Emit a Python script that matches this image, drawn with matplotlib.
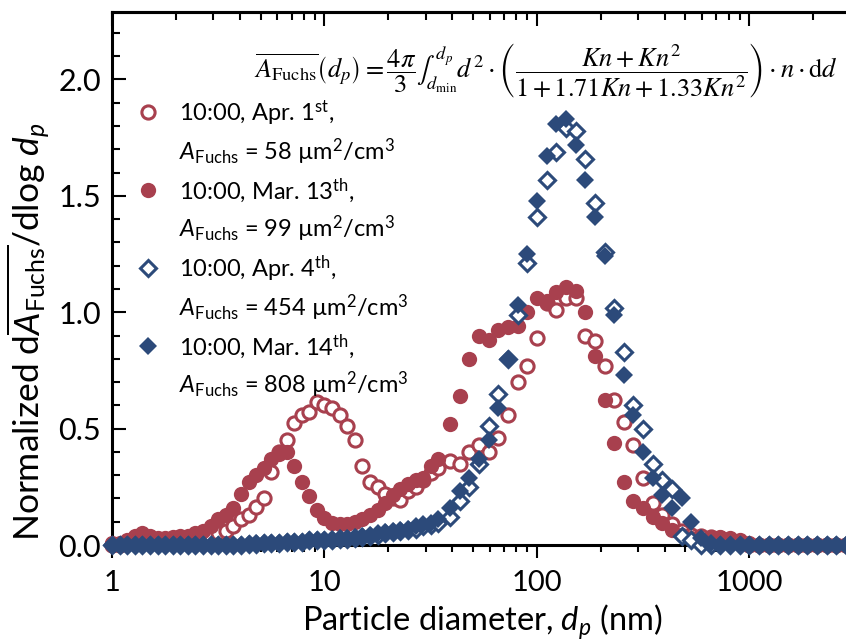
import matplotlib
matplotlib.use('Agg')
import matplotlib.pyplot as plt
from matplotlib.lines import Line2D
from matplotlib.ticker import MultipleLocator, FixedLocator, FixedFormatter, FormatStrFormatter

plt.rcParams['font.family'] = ['Lato', 'DejaVu Sans']
plt.rcParams['mathtext.fontset'] = 'custom'
plt.rcParams['mathtext.rm'] = 'Lato'
plt.rcParams['mathtext.it'] = 'Lato:italic'
plt.rcParams['mathtext.bf'] = 'Lato:bold'

# particle diameters (nm): nano channels then long channels
d_nano = [1.00, 1.086, 1.179, 1.280, 1.389, 1.509, 1.638, 1.778, 1.931, 2.096,
          2.276, 2.471, 2.683, 2.913, 3.162, 3.433, 3.728, 4.047, 4.394, 4.771,
          5.179, 5.623, 6.105, 6.629, 7.197, 7.814, 8.483, 9.211, 10.00, 10.86,
          11.79, 12.80, 13.89, 15.08, 16.38, 17.78, 19.31, 20.96, 22.76, 24.71,
          26.83, 29.13, 31.62, 34.33]
d_long = [38.99, 43.29, 48.06, 53.37, 59.25, 65.79, 73.05, 81.11, 90.06, 100.0,
          111.0, 123.3, 136.9, 152.0, 168.8, 187.4, 208.1, 231.0, 256.5, 284.8,
          316.2, 351.1, 389.9, 432.9, 480.6, 533.7, 592.5, 657.9, 730.5, 811.1,
          900.6, 1000, 1110, 1233, 1369, 1520, 1688, 1874, 2081, 2310,
          2565, 2848]
diam = d_nano + d_long

# normalized dA/dlog dp
apr1 = [0.00, 0.00, 0.01, 0.01, 0.01, 0.02, 0.02, 0.02, 0.02, 0.03,
        0.03, 0.03, 0.03, 0.04, 0.05, 0.06, 0.08, 0.11, 0.13, 0.165,
        0.20, 0.315, 0.40, 0.45, 0.525, 0.56, 0.57, 0.615, 0.60, 0.59,
        0.56, 0.51, 0.45, 0.34, 0.27, 0.25, 0.22, 0.20, 0.195, 0.23,
        0.25, 0.28, 0.31, 0.33,
        0.36, 0.35, 0.40, 0.43, 0.40, 0.46, 0.56, 0.70, 0.77, 0.89,
        1.04, 1.01, 1.06, 1.06, 0.90, 0.875, 0.77, 0.625, 0.53, 0.43,
        0.29, 0.18, 0.13, 0.09, 0.06, 0.045, 0.04, 0.035, 0.03, 0.02,
        0.01, 0.00, 0.00, 0.00, 0.00, 0.00, 0.00, 0.00, 0.00, 0.00,
        0.00, 0.00]
mar13 = [0.01, 0.01, 0.02, 0.04, 0.05, 0.04, 0.03, 0.03, 0.035, 0.04,
         0.04, 0.05, 0.06, 0.08, 0.11, 0.13, 0.16, 0.22, 0.27, 0.30,
         0.33, 0.37, 0.39, 0.40, 0.34, 0.27, 0.21, 0.15, 0.115, 0.095,
         0.09, 0.09, 0.10, 0.11, 0.13, 0.15, 0.18, 0.215, 0.24, 0.26,
         0.28, 0.29, 0.34, 0.37,
         0.52, 0.64, 0.80, 0.90, 0.88, 0.925, 0.935, 0.94, 1.00, 1.06,
         1.05, 1.085, 1.11, 1.09, 1.00, 0.81, 0.625, 0.44, 0.27, 0.19,
         0.16, 0.12, 0.095, 0.065, 0.045, 0.03, 0.025, 0.03, 0.035, 0.03,
         0.02, 0.01, 0.00, 0.00, 0.00, 0.00, 0.00, 0.00, 0.00, 0.00,
         0.00, 0.00]
apr4 = [0.00, 0.00, 0.00, 0.00, 0.00, 0.00, 0.00, 0.00, 0.00, 0.00,
        0.00, 0.00, 0.00, 0.00, 0.00, 0.00, 0.00, 0.00, 0.005, 0.005,
        0.01, 0.01, 0.01, 0.015, 0.015, 0.015, 0.02, 0.02, 0.02, 0.02,
        0.025, 0.025, 0.03, 0.035, 0.04, 0.045, 0.05, 0.055, 0.06, 0.065,
        0.07, 0.08, 0.085, 0.095,
        0.12, 0.19, 0.25, 0.35, 0.51, 0.65, 0.80, 0.99, 1.21, 1.41,
        1.57, 1.69, 1.79, 1.78, 1.66, 1.47, 1.26, 1.02, 0.83, 0.60,
        0.50, 0.35, 0.28, 0.24, 0.04, 0.02, 0.00, 0.00, 0.00, 0.00,
        0.00, 0.00, 0.00, 0.00, 0.00, 0.00, 0.00, 0.00, 0.00, 0.00,
        0.00, 0.00]
mar14 = [0.00, 0.00, 0.00, 0.00, 0.00, 0.00, 0.00, 0.00, 0.00, 0.00,
         0.00, 0.00, 0.00, 0.00, 0.00, 0.00, 0.00, 0.00, 0.005, 0.01,
         0.01, 0.01, 0.01, 0.015, 0.015, 0.015, 0.02, 0.02, 0.02, 0.025,
         0.03, 0.03, 0.035, 0.04, 0.045, 0.05, 0.055, 0.06, 0.065, 0.07,
         0.08, 0.09, 0.095, 0.11,
         0.16, 0.23, 0.29, 0.37, 0.45, 0.59, 0.80, 1.03, 1.25, 1.48,
         1.67, 1.81, 1.83, 1.72, 1.57, 1.41, 1.24, 0.99, 0.73, 0.56,
         0.40, 0.29, 0.215, 0.16, 0.20, 0.10, 0.03, 0.01, 0.00, 0.00,
         0.00, 0.00, 0.00, 0.00, 0.00, 0.00, 0.00, 0.00, 0.00, 0.00,
         0.00, 0.00]

line1 = ['10:00, Apr. 1$^{\\mathrm{st}}$,', '10:00, Mar. 13$^{\\mathrm{th}}$,',
         '10:00, Apr. 4$^{\\mathrm{th}}$,', '10:00, Mar. 14$^{\\mathrm{th}}$,']
a_fuchs = [58, 99, 454, 808]

x_ticks = [1, 10, 100, 1000]
x_labels = ['1', '10', '100', '1000']

red = '#A8404E'
blue = '#2C4A7A'

fig = plt.figure(figsize=(8.46, 6.44), dpi=100)
ax = fig.add_axes([0.1324, 0.1537, 0.8676, 0.8277])
ax.set_xscale('log')

styles = [
    dict(marker='o', ms=9.5, mfc='white', mec=red, mew=2.2),
    dict(marker='o', ms=11, mfc=red, mec=red, mew=0),
    dict(marker='D', ms=7.8, mfc='white', mec=blue, mew=2.2),
    dict(marker='D', ms=9.3, mfc=blue, mec=blue, mew=0),
]
for vals, st in zip([apr1, mar13, apr4, mar14], styles):
    ax.plot(diam, vals, ls='none', clip_on=False, zorder=3, **st)

ax.set_xlim(1, 2850)
ax.set_ylim(0, 2.29)

ax.xaxis.set_major_locator(FixedLocator(x_ticks))
ax.xaxis.set_major_formatter(FixedFormatter(x_labels))
ax.yaxis.set_major_locator(MultipleLocator(0.5))
ax.yaxis.set_minor_locator(MultipleLocator(0.1))
ax.yaxis.set_major_formatter(FormatStrFormatter('%.1f'))

ax.tick_params(axis='x', which='both', direction='out', top=False, width=1.5, labelsize=21, pad=9)
ax.tick_params(axis='x', which='major', length=9)
ax.tick_params(axis='x', which='minor', length=5)
ax.tick_params(axis='y', which='both', direction='in', right=False, width=1.5, labelsize=22, pad=8)
ax.tick_params(axis='y', which='major', length=10)
ax.tick_params(axis='y', which='minor', length=6)

top = ax.secondary_xaxis('top')
top.tick_params(which='both', direction='in', labeltop=False, width=1.5)
top.tick_params(which='major', length=10)
top.tick_params(which='minor', length=6)
top.spines['top'].set_linewidth(2.2)

for s in ['left', 'bottom', 'top']:
    ax.spines[s].set_linewidth(2.2)
ax.spines['right'].set_visible(False)

ax.set_xlabel('Particle diameter, $d_p$ (nm)', fontsize=23.5)
ax.xaxis.set_label_coords(0.504, -0.108)
ax.set_ylabel('Normalized d$\\overline{A_{\\mathrm{Fuchs}}}$/dlog $d_p$', fontsize=25.5)
ax.yaxis.set_label_coords(-0.083, 0.40)

ax.text(0.989, 0.89,
        r'$\overline{A_{\mathrm{Fuchs}}}\left(d_p\right)=\dfrac{4\pi}{3}\int_{d_{\min}}^{d_p}d^2\cdot'
        r'\left(\dfrac{Kn+Kn^2}{1+1.71Kn+1.33Kn^2}\right)\cdot n\cdot\mathrm{d}d$',
        transform=ax.transAxes, ha='right', va='center', fontsize=19, math_fontfamily='stix')

handles = []
labels = []
for st, l1, a in zip(styles, line1, a_fuchs):
    handles.append(Line2D([], [], ls='none', **st))
    labels.append(l1)
    handles.append(Line2D([], [], ls='none'))
    labels.append('$A_{\\mathrm{Fuchs}}$ = %d µm$^2$/cm$^3$' % a)
ax.legend(handles, labels, loc='upper left', bbox_to_anchor=(0.03, 0.838), frameon=False,
          fontsize=17, handlelength=1.2, handletextpad=0.7, labelspacing=0.38,
          borderpad=0, borderaxespad=0, numpoints=1)

fig.savefig('out.png', dpi=100)
